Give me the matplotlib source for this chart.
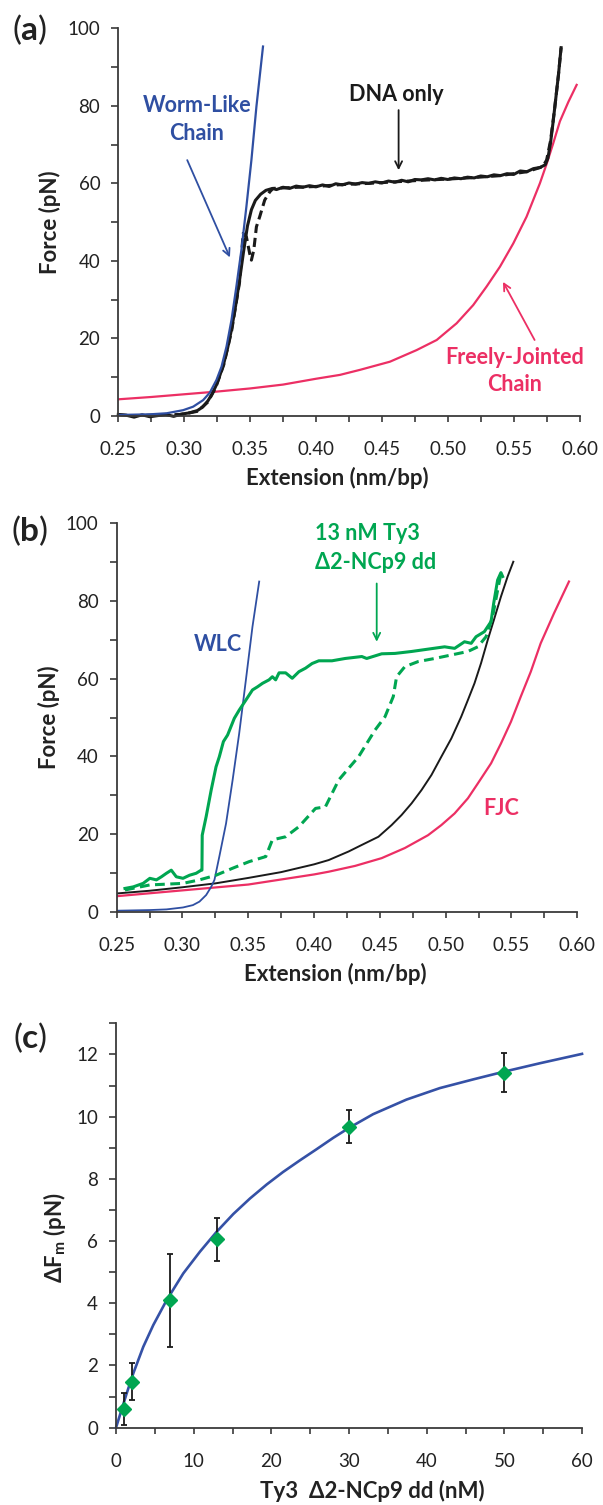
import matplotlib
matplotlib.use('Agg')
import matplotlib.pyplot as plt
from matplotlib.ticker import MultipleLocator, FormatStrFormatter

plt.rcParams['font.family'] = ['Lato', 'DejaVu Sans']
plt.rcParams['mathtext.fontset'] = 'custom'
plt.rcParams['mathtext.rm'] = 'Lato'
plt.rcParams['mathtext.bf'] = 'Lato:bold'

BLUE = '#2F4FA2'
PINK = '#EC2F64'
GREEN = '#00A651'
BLACK = '#1A1A1A'
AXIS = '#3A3A3A'

# --- (a) DNA only ---
wlc_a_x = [0.250, 0.274, 0.2866, 0.2992, 0.3068, 0.3144, 0.3194, 0.3245, 0.3283, 0.3321,
           0.3359, 0.3396, 0.3434, 0.3472, 0.351, 0.3548, 0.3598]
wlc_a_y = [0.26, 0.43, 0.7, 1.5, 2.4, 4.1, 6.0, 9.3, 12.7, 17.9,
           24.8, 33.4, 42.8, 54.0, 66.0, 79.8, 95.3]

fjc_a_x = [0.250, 0.275, 0.300, 0.325, 0.350, 0.375, 0.400, 0.4182, 0.4334, 0.4561,
           0.4764, 0.4916, 0.5067, 0.5193, 0.5295, 0.5396, 0.5497, 0.5598, 0.5699, 0.575,
           0.580, 0.5851, 0.5915, 0.5978]
fjc_a_y = [4.3, 4.9, 5.6, 6.3, 7.1, 8.1, 9.6, 10.6, 11.9, 14.0,
           17.0, 19.6, 23.9, 28.6, 33.4, 38.5, 44.5, 51.4, 60.0, 65.0,
           70.3, 76.0, 81.0, 85.4]

dna_x = [0.250, 0.256, 0.262, 0.268, 0.274, 0.280, 0.286, 0.292, 0.298, 0.304,
         0.310, 0.314, 0.318, 0.321, 0.324, 0.327, 0.330, 0.333, 0.336, 0.339,
         0.342, 0.345, 0.348, 0.351, 0.354, 0.358, 0.362, 0.367,
         0.370, 0.375, 0.380, 0.385, 0.390, 0.395, 0.400, 0.405, 0.410, 0.415,
         0.420, 0.425, 0.430, 0.435, 0.440, 0.445, 0.450, 0.455, 0.460, 0.465,
         0.470, 0.475, 0.480, 0.485, 0.490, 0.495, 0.500, 0.505, 0.510, 0.515,
         0.520, 0.525, 0.530, 0.535, 0.540, 0.545, 0.550, 0.555, 0.560, 0.565,
         0.570, 0.574, 0.576, 0.578, 0.580, 0.582, 0.584, 0.586]
dna_y = [0.4, 0.2, -0.3, 0.3, -0.2, 0.1, 0.4, -0.1, 0.5, 0.8,
         1.4, 2.3, 3.9, 5.6, 7.7, 10.4, 13.5, 17.6, 22.5, 28.4,
         35.0, 42.3, 49.0, 53.2, 55.6, 57.2, 58.2, 58.7,
         58.4, 59.0, 58.7, 59.3, 59.0, 59.4, 59.1, 59.6, 59.2, 59.9,
         59.6, 60.1, 59.8, 60.2, 60.0, 60.4, 60.1, 60.6, 60.3, 60.8,
         60.4, 61.0, 60.9, 61.2, 60.9, 61.3, 61.0, 61.4, 61.2, 61.6,
         61.4, 61.9, 61.7, 62.2, 62.0, 62.5, 62.3, 63.2, 63.0, 63.8,
         64.1, 64.8, 66.5, 70.5, 76.0, 82.0, 88.0, 95.0]

dna_ret_x = [0.250, 0.262, 0.274, 0.286, 0.298, 0.310, 0.318, 0.324, 0.330, 0.336,
             0.342, 0.3447, 0.3472, 0.3497, 0.351, 0.3528, 0.3548, 0.3573, 0.3611, 0.3649,
             0.3674, 0.380, 0.400, 0.420, 0.440, 0.460, 0.480, 0.500, 0.520, 0.540,
             0.560, 0.572, 0.575, 0.578, 0.581, 0.584, 0.586]
dna_ret_y = [0.3, 0.0, 0.2, 0.3, 0.4, 1.2, 3.6, 7.4, 13.2, 22.0,
             34.5, 47.1, 46.2, 41.9, 40.2, 42.8, 48.8, 51.4, 55.7, 57.8,
             58.7, 58.9, 59.2, 59.7, 60.0, 60.4, 60.8, 61.1, 61.5, 62.0,
             63.0, 64.3, 66.0, 71.0, 79.0, 88.0, 95.0]

# --- (b) 13 nM Ty3 D2-NCp9 dd ---
wlc_b_x = [0.250, 0.2752, 0.2878, 0.3004, 0.3079, 0.3129, 0.318, 0.3218, 0.3243, 0.328,
           0.3331, 0.3381, 0.3431, 0.3482, 0.3532, 0.3583]
wlc_b_y = [0.26, 0.43, 0.6, 1.1, 1.7, 2.6, 4.3, 6.4, 8.2, 14.2,
           22.7, 33.9, 45.9, 59.7, 73.4, 85.0]

dsdna_b_x = [0.250, 0.275, 0.300, 0.325, 0.350, 0.375, 0.400, 0.4111, 0.4262, 0.4363,
             0.4489, 0.4589, 0.4665, 0.4741, 0.4816, 0.4892, 0.4967, 0.5043, 0.5118, 0.5169,
             0.5219, 0.5269, 0.532, 0.537, 0.542, 0.5471, 0.5514]
dsdna_b_y = [4.7, 5.4, 6.3, 7.3, 8.7, 10.2, 12.2, 13.3, 15.5, 17.2,
             19.3, 22.3, 24.9, 27.9, 31.3, 35.2, 39.9, 44.6, 50.2, 54.5,
             58.8, 64.0, 70.0, 75.5, 81.1, 86.3, 90.1]

fjc_b_x = [0.250, 0.300, 0.350, 0.400, 0.4111, 0.4312, 0.4514, 0.469, 0.4866, 0.4967,
           0.5068, 0.5169, 0.5244, 0.5345, 0.542, 0.5496, 0.5571, 0.5647, 0.5722, 0.5823,
           0.5937]
fjc_b_y = [4.0, 5.5, 7.0, 9.6, 10.3, 11.8, 13.8, 16.4, 19.7, 22.3,
           25.3, 29.2, 33.0, 38.2, 43.3, 48.9, 55.4, 61.8, 69.1, 76.8,
           85.0]

ty3_x = [0.2563, 0.2626, 0.2701, 0.2752, 0.2802, 0.284, 0.2878, 0.2915, 0.2953, 0.3004,
         0.3054, 0.3104, 0.3142, 0.3148, 0.315, 0.318, 0.3218, 0.3255, 0.328, 0.3311,
         0.3343, 0.3394, 0.3431, 0.3482, 0.3532, 0.357, 0.3608, 0.3658, 0.3683, 0.3708,
         0.3734, 0.3784, 0.3834, 0.3885, 0.3935, 0.3985, 0.4036, 0.4136, 0.4237, 0.4363,
         0.440, 0.4514, 0.4615, 0.4741, 0.4866, 0.4992, 0.5068, 0.5143, 0.5194, 0.5231,
         0.5294, 0.5345, 0.5365, 0.5395, 0.542, 0.5433]
ty3_y = [6.0, 6.4, 7.3, 8.6, 8.2, 9.0, 9.9, 10.7, 9.0, 8.6,
         9.4, 9.9, 10.7, 10.7, 19.7, 24.5, 31.3, 37.3, 39.9, 43.8,
         45.5, 49.8, 51.9, 54.5, 57.1, 57.9, 58.8, 59.7, 60.5, 59.7,
         61.5, 61.5, 60.1, 61.8, 62.7, 63.9, 64.6, 64.6, 65.2, 65.7,
         65.2, 66.4, 66.5, 67.0, 67.6, 68.2, 67.8, 69.5, 69.1, 70.8,
         72.1, 74.7, 79.4, 85.4, 87.3, 86.3]

ty3_ret_x = [0.2563, 0.2752, 0.3004, 0.3129, 0.3255, 0.3381, 0.3507, 0.3633, 0.3683, 0.3784,
             0.3885, 0.4011, 0.4086, 0.4187, 0.4262, 0.4338, 0.4464, 0.4539, 0.4602, 0.4627,
             0.469, 0.4791, 0.4917, 0.5043, 0.5169, 0.5244, 0.5307, 0.5357, 0.5395, 0.542]
ty3_ret_y = [5.6, 6.9, 7.3, 8.2, 9.4, 11.2, 12.9, 14.2, 18.5, 19.3,
             21.9, 26.6, 27.0, 33.9, 36.9, 39.9, 46.8, 50.2, 55.4, 60.5,
             63.1, 64.4, 65.2, 66.1, 67.0, 68.2, 70.8, 76.0, 82.8, 87.1]

# --- (c) melting force shift vs concentration ---
conc = [1, 2, 7, 13, 30, 50]
dfm = [0.60, 1.48, 4.09, 6.06, 9.68, 11.42]
dfm_err = [0.50, 0.59, 1.51, 0.69, 0.53, 0.64]

fit_x = [0.0, 0.51, 1.37, 2.23, 3.51, 4.8, 6.52, 8.66, 10.81, 12.96,
         15.1, 17.25, 19.4, 21.5, 23.7, 25.8, 27.97, 30.0, 33.1, 37.4,
         41.7, 46.0, 50.0, 54.6, 60.0]
fit_y = [0.0, 0.41, 1.10, 1.75, 2.60, 3.30, 4.10, 4.96, 5.66, 6.30,
         6.87, 7.37, 7.82, 8.22, 8.60, 8.95, 9.32, 9.64, 10.08, 10.55,
         10.92, 11.20, 11.45, 11.72, 12.02]


def style(ax):
    for side in ('top', 'right'):
        ax.spines[side].set_visible(False)
    for side in ('left', 'bottom'):
        ax.spines[side].set_color(AXIS)
        ax.spines[side].set_linewidth(1.3)
    ax.tick_params(which='both', direction='out', color=AXIS, width=1.2,
                   labelsize=13.5, labelcolor='#222222')
    ax.tick_params(axis='y', which='both', length=5, pad=8)
    ax.tick_params(axis='x', which='both', length=4, pad=14)


def force_axes(ax):
    style(ax)
    ax.set_xlim(0.25, 0.60)
    ax.set_ylim(0, 100)
    ax.xaxis.set_major_locator(MultipleLocator(0.05))
    ax.xaxis.set_minor_locator(MultipleLocator(0.025))
    ax.xaxis.set_major_formatter(FormatStrFormatter('%.2f'))
    ax.yaxis.set_major_locator(MultipleLocator(20))
    ax.yaxis.set_minor_locator(MultipleLocator(10))
    ax.set_xlabel('Extension (nm/bp)', fontsize=16, fontweight='bold', color='#222222')
    ax.set_ylabel('Force (pN)', fontsize=16, fontweight='bold', color='#222222')
    ax.xaxis.label.set_va('center')
    ax.yaxis.label.set_va('center')
    ax.xaxis.set_label_coords(0.475, -0.16)
    ax.yaxis.set_label_coords(-0.148, 0.5)


def arrow(ax, start, end, color):
    ax.annotate('', xy=end, xytext=start,
                arrowprops=dict(arrowstyle='->,head_length=0.5,head_width=0.25',
                                color=color, lw=1.3, shrinkA=0, shrinkB=0))


fig = plt.figure(figsize=(6.03, 15.05), dpi=100)

# (a)
ax1 = fig.add_axes([0.1962, 0.7236, 0.7649, 0.2576])
force_axes(ax1)
ax1.plot(fjc_a_x, fjc_a_y, color=PINK, lw=1.6)
ax1.plot(dna_ret_x, dna_ret_y, color=BLACK, lw=2.2, ls=(0, (3, 1.6)))
ax1.plot(dna_x, dna_y, color=BLACK, lw=2.2, clip_on=False)
ax1.plot(wlc_a_x, wlc_a_y, color=BLUE, lw=1.6)
ax1.text(0.3096, 76.5, 'Worm-Like\nChain', color=BLUE, fontsize=15.5, fontweight='bold',
         ha='center', va='center', linespacing=1.4)
arrow(ax1, (0.3023, 66.0), (0.3347, 40.9), BLUE)
ax1.text(0.461, 82.8, 'DNA only', color=BLACK, fontsize=15.5, fontweight='bold',
         ha='center', va='center')
arrow(ax1, (0.4627, 78.9), (0.4627, 63.4), BLACK)
ax1.text(0.551, 11.6, 'Freely-Jointed\nChain', color=PINK, fontsize=15.5, fontweight='bold',
         ha='center', va='center', linespacing=1.4)
arrow(ax1, (0.5659, 19.6), (0.5419, 34.6), PINK)

# (b)
ax2 = fig.add_axes([0.1935, 0.3942, 0.7638, 0.2581])
force_axes(ax2)
ax2.plot(fjc_b_x, fjc_b_y, color=PINK, lw=1.6)
ax2.plot(dsdna_b_x, dsdna_b_y, color=BLACK, lw=1.4)
ax2.plot(wlc_b_x, wlc_b_y, color=BLUE, lw=1.3)
ax2.plot(ty3_ret_x, ty3_ret_y, color=GREEN, lw=2.2, ls=(0, (3.2, 1.8)))
ax2.plot(ty3_x, ty3_y, color=GREEN, lw=2.2)
ax2.text(0.3268, 68.7, 'WLC', color=BLUE, fontsize=15.5, fontweight='bold',
         ha='center', va='center')
ax2.text(0.4005, 93.6, '13 nM Ty3\nΔ2-NCp9 dd', color=GREEN, fontsize=15.5,
         fontweight='bold', ha='left', va='center', linespacing=1.45)
arrow(ax2, (0.4476, 84.5), (0.4476, 69.5), GREEN)
ax2.text(0.542, 26.6, 'FJC', color=PINK, fontsize=15.5, fontweight='bold',
         ha='center', va='center')

# (c)
ax3 = fig.add_axes([0.1924, 0.0514, 0.7728, 0.2686])
style(ax3)
ax3.set_xlim(0, 60)
ax3.set_ylim(0, 13)
ax3.xaxis.set_major_locator(MultipleLocator(10))
ax3.xaxis.set_minor_locator(MultipleLocator(5))
ax3.yaxis.set_major_locator(MultipleLocator(2))
ax3.yaxis.set_minor_locator(MultipleLocator(1))
ax3.plot(fit_x, fit_y, color='#3551A6', lw=1.9, clip_on=False)
ax3.errorbar(conc, dfm, yerr=dfm_err, fmt='none', ecolor=BLACK, elinewidth=1.3,
             capsize=2, capthick=1.3, zorder=3)
ax3.plot(conc, dfm, ls='none', marker='D', ms=7, color=GREEN, zorder=4)
ax3.set_xlabel('Ty3  Δ2-NCp9 dd (nM)', fontsize=16, fontweight='bold', color='#222222')
ax3.set_ylabel(r'ΔF$_{\mathregular{m}}$ (pN)', fontsize=16, fontweight='bold', color='#222222')
ax3.xaxis.label.set_va('center')
ax3.yaxis.label.set_va('center')
ax3.xaxis.set_label_coords(0.55, -0.157)
ax3.yaxis.set_label_coords(-0.133, 0.47)

# panel letters
for y, letter in ((30, 'a'), (531, 'b'), (1038, 'c')):
    fig.text(30 / 603, 1 - y / 1505, '($\\mathbf{' + letter + '}$)', fontsize=24,
             ha='center', va='center', color='#222222')

fig.savefig('out.png', dpi=100)
